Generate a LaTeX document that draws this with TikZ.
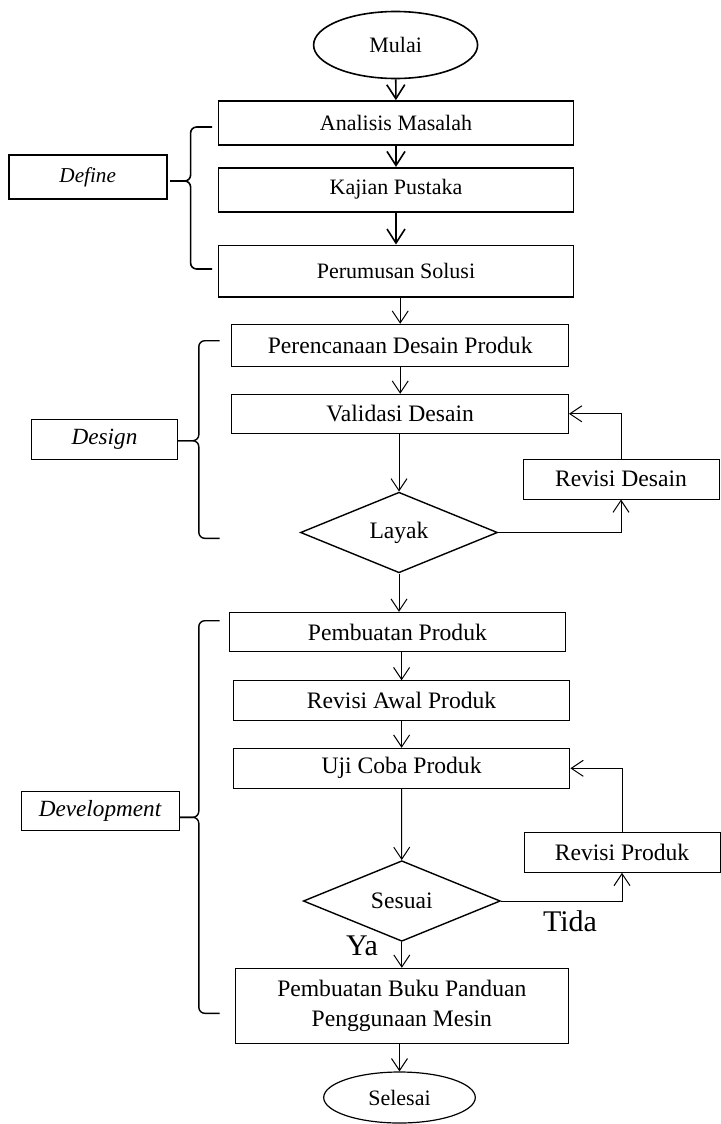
\documentclass[tikz,border=0pt]{standalone}
\usepackage{fontspec}
\setmainfont{Liberation Serif}
\usetikzlibrary{shapes.geometric,arrows.meta}

\begin{document}
\begin{tikzpicture}[x=0.5pt,y=-0.5pt,
  topbox/.style={draw,line width=0.8pt,inner sep=0pt,minimum width=177.5pt,minimum height=22pt,font=\fontsize{11}{13}\selectfont},
  box/.style={draw,line width=0.5pt,inner sep=0pt,minimum width=168.3pt,minimum height=20pt,align=center,font=\fontsize{11.8}{15}\selectfont},
  sidebox/.style={draw,line width=0.5pt,inner sep=0pt,minimum width=98pt,minimum height=20pt,font=\fontsize{11.8}{15}\selectfont},
  phase/.style={draw,line width=0.5pt,inner sep=0pt,minimum height=20pt,font=\fontsize{11.6}{14}\selectfont\itshape},
  cond/.style={draw,diamond,line width=0.7pt,inner sep=0pt,minimum width=98.5pt,minimum height=40.3pt,font=\fontsize{11.8}{15}\selectfont},
  term/.style={draw,ellipse,inner sep=0pt,font=\fontsize{11}{13}\selectfont},
  toparrow/.style={-{Straight Barb[length=7pt,width=9pt]},line width=0.8pt},
  arrow/.style={-{Straight Barb[length=6pt,width=8pt]},line width=0.5pt},
  brace/.style={line width=0.7pt,rounded corners=3pt},
  answer/.style={inner sep=0pt,font=\fontsize{15}{17}\selectfont}]
\useasboundingbox (0,0) rectangle (720,1124);

% define
\node[term,line width=0.8pt,minimum width=82pt,minimum height=33.5pt] (mulai) at (395.6,45) {Mulai};
\node[topbox] (analisis) at (396,123) {Analisis Masalah};
\node[topbox] (kajian) at (396,189.7) {Kajian Pustaka};
\node[topbox,minimum height=25.7pt] (perumusan) at (396,271) {Perumusan Solusi};
\node[phase,line width=0.8pt,minimum width=79pt,minimum height=22pt,font=\fontsize{10.6}{13}\selectfont\itshape] (define) at (87.7,177) {Define};

% design
\node[box,minimum height=21.2pt] (perencanaan) at (400.2,345.5) {Perencanaan Desain Produk};
\node[box,minimum height=19.5pt] (validasi) at (400.2,413.8) {Validasi Desain};
\node[cond] (layak) at (399,532.5) {Layak};
\node[sidebox] (revdesain) at (621,479) {Revisi Desain};
\node[phase,minimum width=73.3pt] (design) at (104.5,439) {Design};

% development
\node[box,minimum height=19.7pt] (pembuatan) at (397.4,632) {Pembuatan Produk};
\node[box] (revawal) at (401.6,700.8) {Revisi Awal Produk};
\node[box] (ujicoba) at (401.6,768.3) {Uji Coba Produk};
\node[cond] (sesuai) at (401.8,901) {Sesuai};
\node[sidebox] (revproduk) at (622,852.3) {Revisi Produk};
\node[box,minimum width=166.7pt,minimum height=37.5pt] (buku) at (401.8,1005.8) {Pembuatan Buku Panduan\\Penggunaan Mesin};
\node[term,line width=0.6pt,minimum width=75.8pt,minimum height=25.5pt] (selesai) at (399.5,1097.5) {Selesai};
\node[phase,minimum width=79pt,minimum height=19.5pt] (development) at (100,810.5) {Development};
\node[answer] (tida) at (570,921) {Tida};
\node[answer] (ya) at (362,946) {Ya};

\draw[toparrow] (mulai) -- (analisis); \draw[toparrow] (analisis) -- (kajian); \draw[toparrow] (kajian) -- (perumusan);
\draw[arrow] (perencanaan.north |- perumusan.south) -- (perencanaan.north); \draw[arrow] (perencanaan) -- (validasi); \draw[arrow] (validasi.south -| layak.north) -- (layak.north);
\draw[arrow] (layak.east) -| (revdesain.south); \draw[arrow] (revdesain.north) |- (validasi.east);
\draw[arrow] (layak.south) -- (layak.south |- pembuatan.north); \draw[arrow] (pembuatan.south -| revawal.north) -- (revawal.north); \draw[arrow] (revawal) -- (ujicoba);
\draw[arrow] (ujicoba) -- (sesuai); \draw[arrow] (sesuai.east) -| (revproduk.south); \draw[arrow] (revproduk.north) |- (ujicoba.east);
\draw[arrow] (sesuai) -- (buku); \draw[arrow] (buku.south -| selesai.north) -- (selesai.north);

% braces
\draw[brace,line width=0.8pt] (212,127) -- (190.6,127) -- (190.6,181) -- (170,181);
\draw[brace,line width=0.8pt] (170,181) -- (190.6,181) -- (190.6,269) -- (212,269);
\draw[brace] (219.5,340.7) -- (198.8,340.7) -- (198.8,440.7) -- (177.7,440.7);
\draw[brace] (177.7,440.7) -- (198.8,440.7) -- (198.8,538.3) -- (219.5,538.3);
\draw[brace] (219.5,620.7) -- (198.8,620.7) -- (198.8,817.3) -- (180,817.3);
\draw[brace] (180,817.3) -- (198.8,817.3) -- (198.8,1013.3) -- (219.5,1013.3);
\end{tikzpicture}
\end{document}
